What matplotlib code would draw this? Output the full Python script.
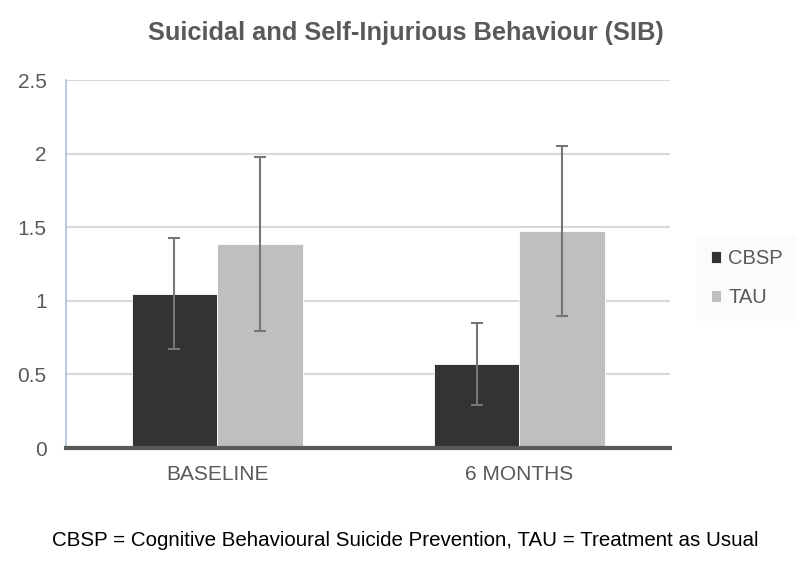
import matplotlib.pyplot as plt
import numpy as np

plt.rcParams['font.family'] = ['Liberation Sans', 'DejaVu Sans']

categories = ["BASELINE", "6 MONTHS"]
cbsp = [1.05, 0.57]
tau = [1.385, 1.475]
cbsp_err = [0.38, 0.28]
tau_err = [0.59, 0.58]

text_grey = "#595959"

fig = plt.figure(figsize=(8, 5.65), dpi=100)
ax = fig.add_axes([0.0825, 0.207, 0.7555, 0.651])

x = np.arange(len(categories))
w = 0.283
err_kw = dict(ecolor="#767676", elinewidth=1.5, capsize=4.5, capthick=1.5)
ax.bar(x - w / 2, cbsp, w, color="#333333", edgecolor="white", linewidth=0.6,
       yerr=cbsp_err, error_kw=err_kw, label="CBSP", zorder=3)
ax.bar(x + w / 2, tau, w, color="#bfbfbf", edgecolor="white", linewidth=0.6,
       yerr=tau_err, error_kw=err_kw, label="TAU", zorder=3)

ax.set_xlim(-0.5, 1.5)
ax.set_ylim(0, 2.5)
ax.set_yticks([0, 0.5, 1, 1.5, 2, 2.5])
ax.set_yticklabels(["0", "0.5", "1", "1.5", "2", "2.5"])
ax.set_xticks(x)
ax.set_xticklabels(categories)
ax.tick_params(axis="both", length=0, labelsize=15, labelcolor=text_grey)
ax.tick_params(axis="y", pad=14)
ax.tick_params(axis="x", pad=12)

ax.grid(axis="y", color="#d9d9d9", linewidth=1.5, zorder=0)
ax.set_axisbelow(True)
for s in ["top", "right"]:
    ax.spines[s].set_visible(False)
ax.spines["left"].set_color("#a9c4e0")
ax.spines["left"].set_linewidth(1.2)
ax.spines["bottom"].set_color("#595959")
ax.spines["bottom"].set_linewidth(3)
ax.spines["bottom"].set_zorder(4)

leg = ax.legend(loc="center left", bbox_to_anchor=(1.027, 0.462), frameon=True,
                fontsize=14.5, handlelength=0.5, handleheight=0.5,
                handletextpad=0.35, labelspacing=1.0, borderpad=0.7)
leg.get_frame().set_facecolor("#fafafa")
leg.get_frame().set_edgecolor("none")
for t in leg.get_texts():
    t.set_color(text_grey)

fig.text(0.507, 0.941, "Suicidal and Self-Injurious Behaviour (SIB)",
         ha="center", va="center", fontsize=18.3, fontweight="bold", color=text_grey)
fig.text(0.507, 0.044, "CBSP = Cognitive Behavioural Suicide Prevention, TAU = Treatment as Usual",
         ha="center", va="center", fontsize=14.8, color="black")

fig.savefig("out.png", dpi=100)
